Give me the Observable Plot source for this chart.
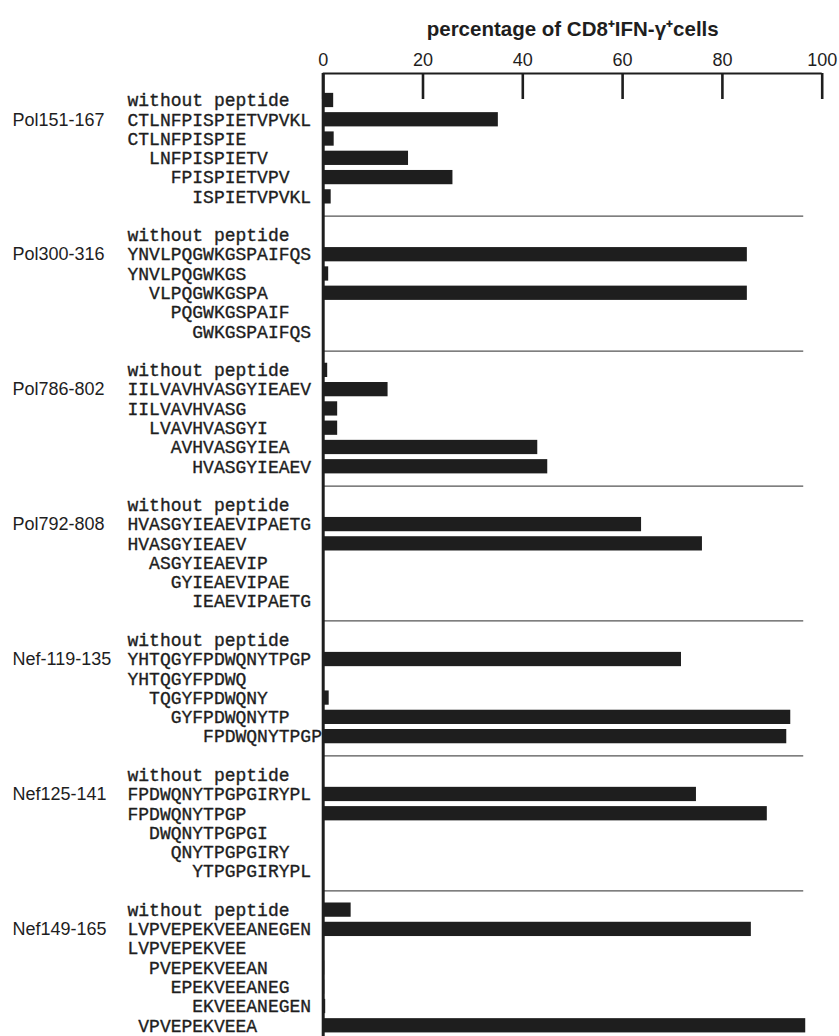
<!DOCTYPE html>
<html>
<head>
<meta charset="utf-8">
<script src="https://cdn.jsdelivr.net/npm/d3@7"></script>
<script src="https://cdn.jsdelivr.net/npm/@observablehq/plot@0.6"></script>
<style>
html, body { margin: 0; padding: 0; background: #fff; overflow: hidden; }
#chart svg { display: block; }
</style>
</head>
<body>
<div id="chart"></div>
<script>
// ---- data ----
const groupNames = ["Pol151-167", "Pol300-316", "Pol786-802", "Pol792-808", "Nef-119-135", "Nef125-141", "Nef149-165"];

const pol151Peptides = ["without peptide", "CTLNFPISPIETVPVKL", "CTLNFPISPIE", "  LNFPISPIETV", "    FPISPIETVPV", "      ISPIETVPVKL"];
const pol151Values   = [2.1, 35.1, 2.2, 17.1, 26.0, 1.6];

const pol300Peptides = ["without peptide", "YNVLPQGWKGSPAIFQS", "YNVLPQGWKGS", "  VLPQGWKGSPA", "    PQGWKGSPAIF", "      GWKGSPAIFQS"];
const pol300Values   = [0, 85.0, 1.1, 85.0, 0, 0];

const pol786Peptides = ["without peptide", "IILVAVHVASGYIEAEV", "IILVAVHVASG", "  LVAVHVASGYI", "    AVHVASGYIEA", "      HVASGYIEAEV"];
const pol786Values   = [0.9, 13.0, 2.9, 2.9, 43.0, 45.0];

const pol792Peptides = ["without peptide", "HVASGYIEAEVIPAETG", "HVASGYIEAEV", "  ASGYIEAEVIP", "    GYIEAEVIPAE", "      IEAEVIPAETG"];
const pol792Values   = [0, 63.8, 76.0, 0, 0, 0];

const nef119Peptides = ["without peptide", "YHTQGYFPDWQNYTPGP", "YHTQGYFPDWQ", "  TQGYFPDWQNY", "    GYFPDWQNYTP", "       FPDWQNYTPGP"];
const nef119Values   = [0, 71.8, 0, 1.2, 93.7, 92.9];

const nef125Peptides = ["without peptide", "FPDWQNYTPGPGIRYPL", "FPDWQNYTPGP", "  DWQNYTPGPGI", "    QNYTPGPGIRY", "      YTPGPGIRYPL"];
const nef125Values   = [0, 74.8, 89.0, 0, 0, 0];

const nef149Peptides = ["without peptide", "LVPVEPEKVEEANEGEN", "LVPVEPEKVEE", "  PVEPEKVEEAN", "    EPEKVEEANEG", "      EKVEEANEGEN", " VPVEPEKVEEA"];
const nef149Values   = [5.6, 85.8, 0, 0.3, 0.3, 0.5, 96.7];

const xTicks = [0, 20, 40, 60, 80, 100];
const axisTitle = "percentage of CD8\u207AIFN-\u03B3\u207Acells";
const separatorEnd = 96.3;

// ---- build table ----
const groupPeptides = [pol151Peptides, pol300Peptides, pol786Peptides, pol792Peptides, nef119Peptides, nef125Peptides, nef149Peptides];
const groupValues = [pol151Values, pol300Values, pol786Values, pol792Values, nef119Values, nef125Values, nef149Values];

const rows = [];
const groupRows = [];
const separators = [];
let slot = 0;
groupPeptides.forEach((peps, g) => {
  if (g > 0) { separators.push(slot); slot++; }
  groupRows.push({name: groupNames[g], y: slot + 1});
  peps.forEach((p, i) => {
    rows.push({label: p.replace(/ /g, "\u00A0"), value: groupValues[g][i], y: slot});
    slot++;
  });
});
const axisRow = -1.4;
const lastRow = slot - 1 + 0.4;

const chart = Plot.plot({
  width: 839,
  height: 1036,
  marginLeft: 322.7,
  marginRight: 17.3,
  marginTop: 73,
  marginBottom: 3,
  style: {background: "white", fontFamily: "'Liberation Sans', Arial, sans-serif", overflow: "visible"},
  x: {domain: [0, 100], axis: null},
  y: {domain: [axisRow, lastRow], reverse: true, axis: null},
  marks: [
    Plot.ruleY(separators, {x1: 0, x2: separatorEnd, stroke: "#555", strokeWidth: 1.2}),
    Plot.rectX(rows, {x1: 0, x2: "value", y1: d => d.y - 0.37, y2: d => d.y + 0.37, fill: "#1e1e1e"}),
    Plot.ruleY([axisRow], {x1: 0, x2: 100, stroke: "#1e1e1e", strokeWidth: 2.2}),
    Plot.ruleX(xTicks, {y1: axisRow, y2: axisRow + 1.35, stroke: "#1e1e1e", strokeWidth: 2.6}),
    Plot.ruleX([0], {y1: axisRow, y2: lastRow + 0.2, stroke: "#1e1e1e", strokeWidth: 3}),
    Plot.axisX(xTicks, {anchor: "top", tickSize: 0, tickPadding: 8, fontSize: 18, label: null, fill: "#1e1e1e"}),
    Plot.text([axisTitle], {text: d => d, frameAnchor: "top", dy: -52, fontSize: 20.5, fontWeight: "bold", fill: "#1e1e1e"}),
    Plot.text(rows, {x: 0, y: "y", text: "label", textAnchor: "start", dx: -195.7, fontFamily: "'Liberation Mono', 'Courier New', monospace", fontSize: 18, fill: "#1e1e1e", stroke: "#1e1e1e", strokeWidth: 0.35}),
    Plot.text(groupRows, {x: 0, y: "y", text: "name", textAnchor: "start", dx: -310.7, fontSize: 18, fill: "#1e1e1e"})
  ]
});
document.getElementById("chart").appendChild(chart);
</script>
</body>
</html>
